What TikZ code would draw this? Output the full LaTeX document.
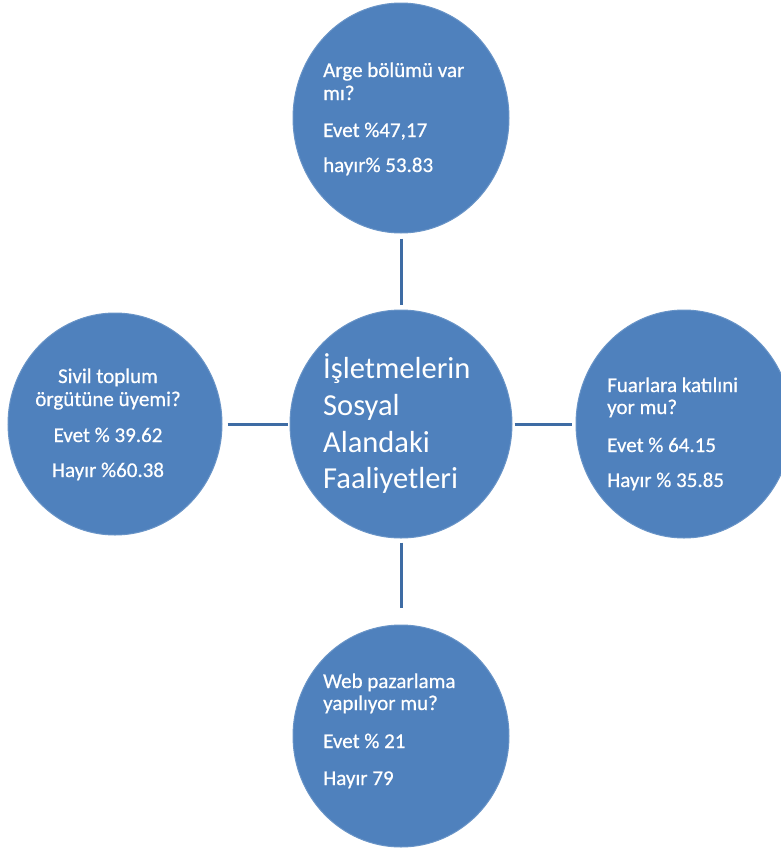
\documentclass[tikz,border=0pt]{standalone}
\usepackage{fontspec}
\setmainfont{Carlito}
\usetikzlibrary{shapes.geometric}
\definecolor{bub}{HTML}{4F81BD}
\definecolor{conn}{HTML}{3E6CA4}
\tikzset{
  bubble/.style={ellipse, fill=bub, draw=bub!85!white, line width=1pt, inner sep=0pt},
  lbl/.style={text=white, inner sep=0pt, anchor=base west, font=\fontsize{21}{25}\selectfont\addfontfeature{FakeBold=0.6}},
  clbl/.style={lbl, anchor=base},
  big/.style={text=white, inner sep=0pt, anchor=base west, font=\fontsize{30.5}{36}\selectfont},
  link/.style={conn, line width=3pt}
}
\begin{document}
\begin{tikzpicture}[x=1pt,y=-1pt]
\useasboundingbox (0,0) rectangle (781,852);
% bubbles
\node[bubble, minimum width=216pt, minimum height=230pt] (top) at (401,118) {};
\node[bubble, minimum width=222pt, minimum height=228pt] (mid) at (401,424) {};
\node[bubble, minimum width=216pt, minimum height=222pt] (bot) at (401,736) {};
\node[bubble, minimum width=214pt, minimum height=222pt] (lft) at (115,424) {};
\node[bubble, minimum width=216pt, minimum height=228pt] (rgt) at (684,424) {};
% connectors
\draw[link, shorten <=5pt, shorten >=5pt] (top.south) -- (mid.north);
\draw[link, shorten <=4pt, shorten >=17pt] (mid.south) -- (bot.north);
\draw[link, shorten <=5pt, shorten >=2pt] (lft.east) -- (mid.west);
\draw[link, shorten <=2pt, shorten >=4pt] (mid.east) -- (rgt.west);
% top text
\node[lbl] (t1) at (323,77) {Arge bölümü var};
\node[lbl] (t2) at (323,100) {mı?};
\node[lbl] (t3) at (323,137) {Evet \%47,17};
\node[lbl] (t4) at (323,172) {hayır\% 53.83};
% center text
\node[big] (m1) at (323,378) {İşletmelerin};
\node[big] (m2) at (323,415) {Sosyal};
\node[big] (m3) at (323,452) {Alandaki};
\node[big] (m4) at (323,488) {Faaliyetleri};
% left text
\node[clbl] (l1) at (108,383) {Sivil toplum};
\node[clbl] (l2) at (108,406) {örgütüne üyemi?};
\node[clbl] (l3) at (108,442) {Evet \% 39.62};
\node[clbl] (l4) at (108,477) {Hayır \%60.38};
% right text
\node[lbl] (r1) at (607,392) {Fuarlara katılıni};
\node[lbl] (r2) at (607,414) {yor mu?};
\node[lbl] (r3) at (607,452) {Evet \% 64.15};
\node[lbl] (r4) at (607,487) {Hayır \% 35.85};
% bottom text
\node[lbl] (b1) at (323,688) {Web pazarlama};
\node[lbl] (b2) at (323,710) {yapılıyor mu?};
\node[lbl] (b3) at (323,748) {Evet \% 21};
\node[lbl] (b4) at (323,785) {Hayır 79};
\end{tikzpicture}
\end{document}
